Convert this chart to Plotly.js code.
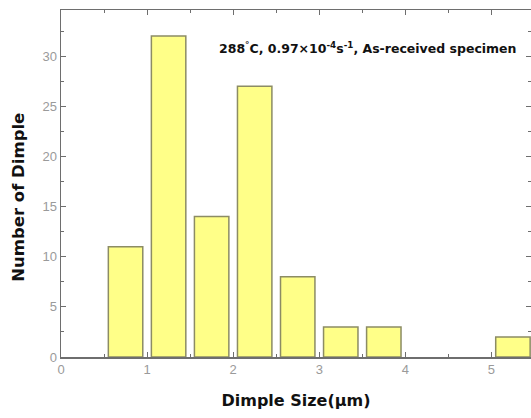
<!DOCTYPE html>
<html>
<head>
<meta charset="utf-8">
<script src="https://cdn.plot.ly/plotly-3.0.1.min.js"></script>
<style>
  html, body { margin: 0; padding: 0; background: #fff; }
  #chart { width: 531px; height: 418px; }
</style>
</head>
<body>
<div id="chart"></div>
<script>
// Dimple size histogram (bin centres in µm, counts per bin)
const binCenters = [0.75, 1.25, 1.75, 2.25, 2.75, 3.25, 3.75, 4.25, 4.75, 5.25];
const counts     = [11, 32, 14, 27, 8, 3, 3, 0, 0, 2];
const xTickVals  = [0, 1, 2, 3, 4, 5];
const yTickVals  = [0, 5, 10, 15, 20, 25, 30];
const xTitle = 'Dimple Size(μm)';
const yTitle = 'Number of Dimple';
const conditionLabel = '288<sup>°</sup>C, 0.97×10<sup>-4</sup>s<sup>-1</sup>, As-received specimen';

const axisColor = '#6e6e6e';
const tickFont = 'Liberation Sans, Arial, sans-serif';
const boldFont = 'DejaVu Sans, Verdana, sans-serif';

// empty bins get no outline
const outlineWidths = counts.map(c => (c > 0 ? 1.5 : 0));

const trace = {
  type: 'bar',
  x: binCenters,
  y: counts,
  width: 0.4,
  marker: {
    color: '#ffff88',
    line: { color: '#8c8c64', width: outlineWidths }
  },
  hoverinfo: 'x+y'
};

const layout = {
  width: 531,
  height: 418,
  margin: { l: 61, r: 0, t: 10, b: 61 },
  paper_bgcolor: '#fff',
  plot_bgcolor: '#fff',
  showlegend: false,
  font: { family: tickFont, color: '#999' },
  xaxis: {
    range: [0, 5.46],
    tickvals: xTickVals,
    ticks: 'inside',
    ticklen: 5,
    tickwidth: 1,
    tickcolor: axisColor,
    minor: { dtick: 0.5, ticks: 'inside', ticklen: 3, tickcolor: axisColor },
    showline: true,
    linecolor: axisColor,
    linewidth: 1.5,
    mirror: 'ticks',
    showgrid: false,
    zeroline: false,
    tickfont: { family: tickFont, size: 13, color: '#9a9a9a' },
    title: { text: xTitle, font: { family: boldFont, size: 16, color: '#111', weight: 'bold' }, standoff: 18 }
  },
  yaxis: {
    range: [0, 34.6],
    tickvals: yTickVals,
    ticks: 'inside',
    ticklen: 5,
    tickwidth: 1,
    tickcolor: axisColor,
    minor: { dtick: 2.5, ticks: 'inside', ticklen: 3, tickcolor: axisColor },
    showline: true,
    linecolor: axisColor,
    linewidth: 1.5,
    mirror: 'ticks',
    showgrid: false,
    zeroline: false,
    tickfont: { family: tickFont, size: 13, color: '#9a9a9a' }
  },
  annotations: [
    {
      xref: 'paper', yref: 'paper',
      x: 0.653, y: 0.89,
      xanchor: 'center', yanchor: 'middle',
      text: '<b>' + conditionLabel + '</b>',
      showarrow: false,
      font: { family: boldFont, size: 12.5, color: '#111' }
    },
    {
      // vertical axis title
      xref: 'paper', yref: 'paper',
      x: -0.092, y: 0.461,
      xanchor: 'center', yanchor: 'middle',
      textangle: -90,
      text: '<b>' + yTitle + '</b>',
      showarrow: false,
      font: { family: boldFont, size: 16.5, color: '#111' }
    }
  ]
};

Plotly.newPlot('chart', [trace], layout, { displayModeBar: false, staticPlot: true });
</script>
</body>
</html>
